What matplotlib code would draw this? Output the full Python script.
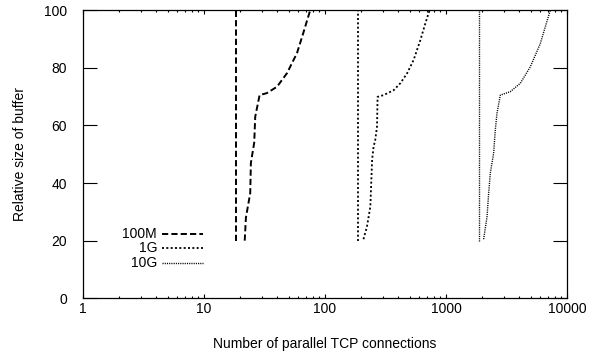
import matplotlib
matplotlib.use("Agg")
import matplotlib.pyplot as plt
from matplotlib.ticker import LogLocator, FixedLocator, NullFormatter

plt.rcParams['font.family'] = ['Liberation Sans', 'DejaVu Sans']

# values
net_labels = ['100M', '1G', '10G']
start_x = [18.5, 186, 1885]      # vertical part of each curve
start_y = [20, 100]

m100_x = [21.7, 22.2, 24.1, 24.4, 26.0, 26.5, 28.8, 33.1, 40.1, 48.5, 58.7, 66.1, 75.5]
m100_y = [20, 28, 36.5, 47, 54, 63, 70.5, 71.2, 73.4, 78.1, 85.1, 92, 100]

g1_x = [208, 222, 237, 245, 252, 260, 269, 272, 305, 369, 419, 476, 540, 614, 675, 732]
g1_y = [20.5, 24.8, 31.8, 48, 52.6, 54.9, 59.5, 69.9, 70.5, 72.2, 74.6, 78, 82.7, 89.6, 95.4, 100]

g10_x = [2046, 2183, 2251, 2323, 2474, 2555, 2638, 2811, 3400, 4111, 4973, 6016, 7278]
g10_y = [20.5, 28.3, 36.4, 43.4, 50.3, 58.4, 64.2, 70.5, 71.7, 74.6, 80.3, 88.4, 100]

x_ticks = [1, 10, 100, 1000, 10000]
y_ticks = [0, 20, 40, 60, 80, 100]

curves_x = [m100_x, g1_x, g10_x]
curves_y = [m100_y, g1_y, g10_y]
styles = [dict(lw=1.4, dashes=(3.2, 1.6)),
          dict(lw=1.3, dashes=(1.1, 1.3)),
          dict(lw=1.0, dashes=(0.8, 0.8))]

fig = plt.figure(figsize=(6.05, 3.58), dpi=100)
ax = fig.add_axes([0.1372, 0.1668, 0.8, 0.805])

for sx, cx, cy, st in zip(start_x, curves_x, curves_y, styles):
    ax.plot([sx, sx], start_y, color='black', **st)
    ax.plot(cx, cy, color='black', **st)

ax.set_xscale('log')
ax.set_xlim(1, 10000)
ax.set_ylim(0, 100)
ax.xaxis.set_major_locator(FixedLocator(x_ticks))
ax.set_xticklabels([str(t) for t in x_ticks])
ax.xaxis.set_minor_locator(LogLocator(base=10, subs=range(2, 10)))
ax.xaxis.set_minor_formatter(NullFormatter())
ax.set_yticks(y_ticks)

ax.tick_params(which='both', direction='in', top=True, right=True, labelsize=10, width=0.8)
ax.tick_params(axis='x', which='major', length=3, pad=3)
ax.tick_params(axis='x', which='minor', length=1.5)
ax.tick_params(axis='y', which='major', length=10, pad=11.5)
for s in ax.spines.values():
    s.set_linewidth(0.9)

ax.set_xlabel('Number of parallel TCP connections', fontsize=10, labelpad=15)
ax.set_ylabel('Relative size of buffer', fontsize=10, labelpad=12)

# gnuplot-style key: right-aligned label, then line sample
key_y = [0.223, 0.1745, 0.1224]
for lab, ky, st in zip(net_labels, key_y, styles):
    ax.text(0.153, ky, lab, transform=ax.transAxes, ha='right', va='center', fontsize=10)
    ax.plot([0.163, 0.248], [ky, ky], transform=ax.transAxes, color='black', **st)

fig.savefig('out.png', dpi=100)
